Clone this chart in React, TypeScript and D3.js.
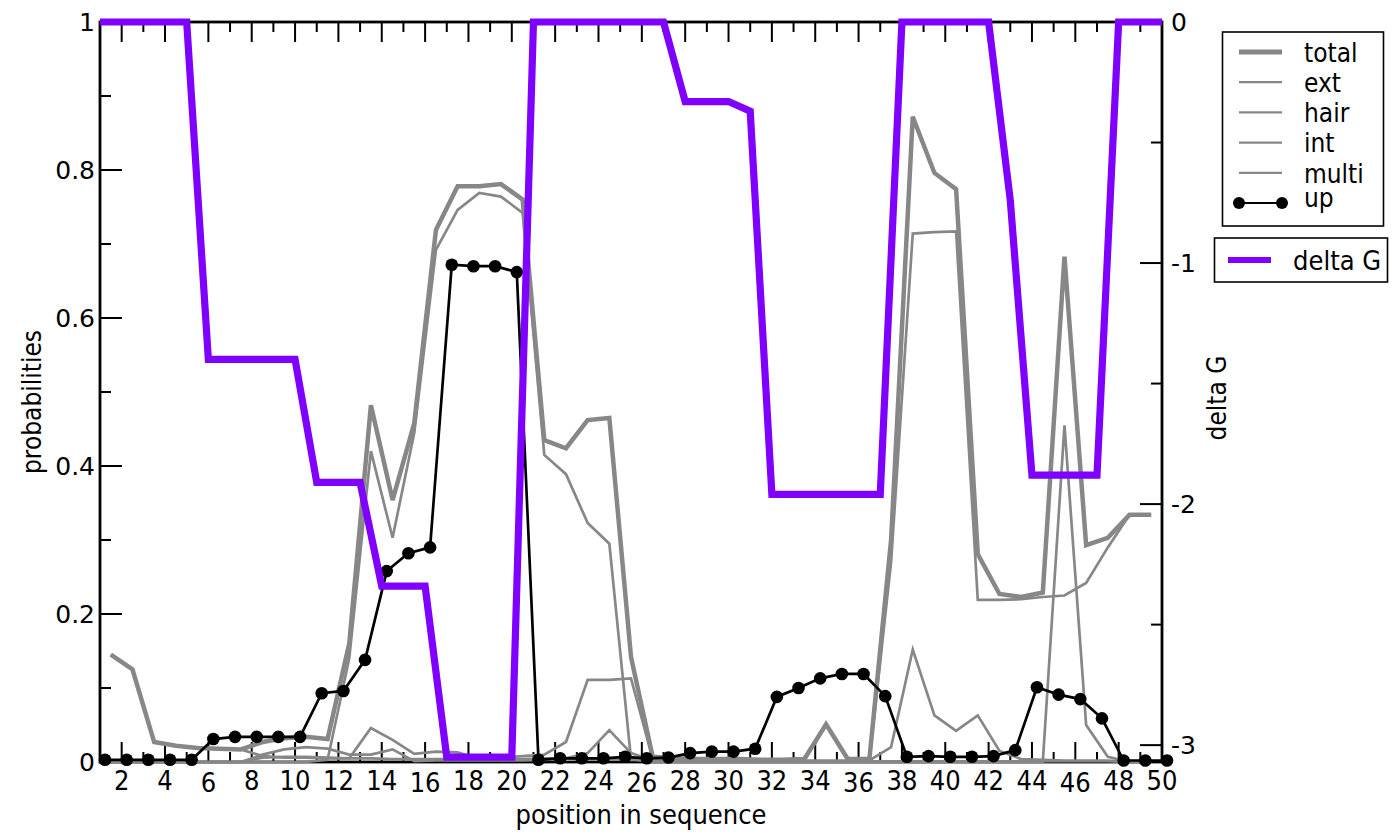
import React from 'react';
import * as d3 from 'd3';

// sequence positions 1..50
const positions = d3.range(1, 51);

// delta G per position (right axis)
const deltaG = [
  0, 0, 0, 0, 0, -1.40, -1.40, -1.40, -1.40, -1.40,
  -1.91, -1.91, -1.91, -2.34, -2.34, -2.34, -3.05, -3.05, -3.05, -3.05,
  0, 0, 0, 0, 0, 0, 0, -0.33, -0.33, -0.33,
  -0.37, -1.96, -1.96, -1.96, -1.96, -1.96, -1.96, 0, 0, 0,
  0, 0, -0.74, -1.88, -1.88, -1.88, -1.88, 0, 0, 0,
];

// probability of being unpaired ("up"), one value per position
const up = [
  0.003, 0.003, 0.003, 0.003, 0.003, 0.031, 0.034, 0.034, 0.034, 0.034,
  0.093, 0.096, 0.138, 0.258, 0.282, 0.290, 0.672, 0.670, 0.670, 0.662,
  0.003, 0.005, 0.005, 0.005, 0.007, 0.005, 0.006, 0.012, 0.014, 0.014,
  0.018, 0.088, 0.100, 0.113, 0.119, 0.119, 0.089, 0.007, 0.008, 0.007,
  0.007, 0.008, 0.016, 0.101, 0.091, 0.085, 0.059, 0.002, 0.002, 0.002,
];

// loop-type probabilities, 49 values, drawn between positions
const total = [
  0.145, 0.125, 0.027, 0.022, 0.019, 0.018, 0.017, 0.027, 0.032, 0.034,
  0.031, 0.160, 0.482, 0.354, 0.458, 0.719, 0.778, 0.778, 0.781, 0.760,
  0.435, 0.424, 0.462, 0.465, 0.142, 0.007, 0.005, 0.004, 0.004, 0.004,
  0.003, 0.003, 0.004, 0.051, 0.004, 0.004, 0.300, 0.872, 0.796, 0.774,
  0.281, 0.227, 0.223, 0.229, 0.683, 0.293, 0.303, 0.334, 0.334,
];
const ext = [
  0.145, 0.125, 0.027, 0.022, 0.019, 0.018, 0.017, 0.008, 0.006, 0.006,
  0.005, 0.005, 0.005, 0.004, 0.004, 0.004, 0.004, 0.004, 0.004, 0.004,
  0.005, 0.005, 0.004, 0.004, 0.003, 0.002, 0.002, 0.002, 0.002, 0.002,
  0.002, 0.002, 0.002, 0.002, 0.002, 0.002, 0.270, 0.714, 0.716, 0.717,
  0.219, 0.219, 0.220, 0.223, 0.225, 0.242, 0.290, 0.334, 0.334,
];
const hair = [
  0, 0, 0, 0, 0, 0, 0, 0, 0, 0,
  0.003, 0.140, 0.420, 0.303, 0.445, 0.692, 0.746, 0.769, 0.764, 0.742,
  0.415, 0.389, 0.323, 0.295, 0.004, 0, 0, 0, 0, 0,
  0, 0, 0, 0, 0, 0, 0, 0, 0, 0,
  0, 0, 0, 0, 0.455, 0.050, 0.007, 0, 0,
];
const int = [
  0, 0, 0, 0, 0, 0, 0, 0.006, 0.007, 0.007,
  0.006, 0.005, 0.046, 0.030, 0.011, 0.014, 0.013, 0.004, 0.006, 0.008,
  0.010, 0.027, 0.111, 0.111, 0.113, 0.004, 0.002, 0.002, 0.002, 0.002,
  0.002, 0.002, 0.002, 0.051, 0.002, 0.002, 0.020, 0.152, 0.063, 0.042,
  0.063, 0.015, 0.004, 0.003, 0.002, 0.002, 0.002, 0, 0,
];
const multi = [
  0, 0, 0, 0, 0, 0, 0, 0.010, 0.017, 0.020,
  0.018, 0.010, 0.010, 0.017, 0.001, 0.002, 0.002, 0.002, 0.002, 0.002,
  0.003, 0.005, 0.012, 0.043, 0.012, 0.002, 0.001, 0.001, 0.001, 0.001,
  0.001, 0.001, 0.001, 0.001, 0.001, 0.001, 0.001, 0.001, 0.001, 0.001,
  0.001, 0.001, 0.001, 0.001, 0.001, 0.001, 0.001, 0, 0,
];

const legendLabels = ['total', 'ext', 'hair', 'int', 'multi', 'up'];
const probTicks = [0, 0.2, 0.4, 0.6, 0.8, 1];
const probMinor = [0.1, 0.3, 0.5, 0.7, 0.9];
const dgTicks = [0, -1, -2, -3];
const dgMinor = [-0.5, -1.5, -2.5];

const GRAY = '#878787';
const PURPLE = '#8000ff';
const FONT = "'DejaVu Sans', sans-serif";
const COND = "'DejaVu Sans Condensed', 'DejaVu Sans', sans-serif";

const L = 100, R = 1162, T = 22, B = 762;
const GRAY_SHIFT = 0.5;
const UP_SHIFT = 0.23;

const x = d3.scaleLinear().domain([1, 50]).range([L, R]);
const yP = d3.scaleLinear().domain([0, 1]).range([B, T]);
const yG = d3.scaleLinear().domain([-3.07, 0]).range([B, T]);

const grayPath = (vals: number[]) =>
  d3.line<number>().x((_, i) => x(positions[i] + GRAY_SHIFT)).y(d => yP(d))(vals) || '';

const upPath = d3.line<number>().x((_, i) => x(positions[i] + UP_SHIFT)).y(d => yP(d))(up) || '';
const dgPath = d3.line<number>().x((_, i) => x(positions[i])).y(d => yG(d))(deltaG) || '';

// legend text is centred on its glyph box
const legendDy = (s: string, fs: number) => {
  const top = /[bdfhklt]/.test(s) ? 0.76 : 0.55;
  const bot = /[gjpqy]/.test(s) ? -0.23 : 0;
  return ((top + bot) / 2) * fs;
};

export default function App() {
  const majorX = positions.filter(p => p % 2 === 0);
  const minorX = positions.filter(p => p % 2 === 1);
  const legendRows = legendLabels.map((s, i) => ({ s, y: 52 + i * 30.2 }));

  return (
    <svg width={1393} height={832} style={{ position: 'absolute', left: 0, top: 0, background: '#fff' }}>
      {/* frame */}
      <rect x={L} y={T} width={R - L} height={B - T} fill="none" stroke="#000" strokeWidth={2.8} />

      {/* x ticks bottom and top */}
      {majorX.map(p => (
        <g key={'mx' + p} stroke="#000" strokeWidth={2}>
          <line x1={x(p)} x2={x(p)} y1={B} y2={B - 20} />
          <line x1={x(p)} x2={x(p)} y1={T} y2={T + 20} />
        </g>
      ))}
      {minorX.map(p => (
        <g key={'nx' + p} stroke="#000" strokeWidth={2}>
          <line x1={x(p)} x2={x(p)} y1={B} y2={B - 10} />
          <line x1={x(p)} x2={x(p)} y1={T} y2={T + 10} />
        </g>
      ))}
      {majorX.map(p => (
        <text key={'lx' + p} x={x(p)} y={p % 10 === 6 ? 792 : 790} textAnchor="middle"
          fontFamily={COND} fontSize={27} style={{ fontStretch: 'condensed' }}>{p}</text>
      ))}

      {/* left axis */}
      {probTicks.map(v => (
        <g key={'py' + v}>
          <line x1={L} x2={L + 22} y1={yP(v)} y2={yP(v)} stroke="#000" strokeWidth={2} />
          <text x={95} y={yP(v)} dy="0.36em" textAnchor="end" fontFamily={FONT} fontSize={25}>{v}</text>
        </g>
      ))}
      {probMinor.map(v => (
        <line key={'pm' + v} x1={L} x2={L + 11} y1={yP(v)} y2={yP(v)} stroke="#000" strokeWidth={2} />
      ))}

      {/* right axis */}
      {dgTicks.map(v => (
        <g key={'gy' + v}>
          <line x1={R} x2={R - 22} y1={yG(v)} y2={yG(v)} stroke="#000" strokeWidth={2} />
          <text x={1171} y={yG(v)} dy="0.36em" textAnchor="start" fontFamily={FONT} fontSize={25}>{v === 0 ? '0' : String(v)}</text>
        </g>
      ))}
      {dgMinor.map(v => (
        <line key={'gm' + v} x1={R} x2={R - 11} y1={yG(v)} y2={yG(v)} stroke="#000" strokeWidth={2} />
      ))}

      {/* axis titles */}
      <text x={641} y={824} textAnchor="middle" fontFamily={COND} fontSize={27} style={{ fontStretch: 'condensed' }}>position in sequence</text>
      <text transform="translate(41,402) rotate(-90)" textAnchor="middle" fontFamily={COND} fontSize={26} style={{ fontStretch: 'condensed' }}>probabilities</text>
      <text transform="translate(1226,398) rotate(-90)" textAnchor="middle" fontFamily={COND} fontSize={26} style={{ fontStretch: 'condensed' }}>delta G</text>

      {/* loop-type lines */}
      <g fill="none" stroke={GRAY} strokeLinejoin="miter">
        {[ext, hair, int, multi].map((s, i) => (
          <path key={'g' + i} d={grayPath(s)} strokeWidth={2.7} />
        ))}
        <path d={grayPath(total)} strokeWidth={4.5} />
      </g>

      {/* up */}
      <path d={upPath} fill="none" stroke="#000" strokeWidth={2.7} />
      {up.map((v, i) => (
        <circle key={'u' + i} cx={x(positions[i] + UP_SHIFT)} cy={yP(v)} r={6.3} fill="#000" />
      ))}

      {/* delta G */}
      <path d={dgPath} fill="none" stroke={PURPLE} strokeWidth={7.2} strokeLinejoin="miter" />

      {/* legend 1 */}
      <rect x={1222.5} y={32} width={161} height={194} fill="#fff" stroke="#000" strokeWidth={1.6} />
      {legendRows.map(({ s, y }) => (
        <g key={s}>
          <line x1={1239} x2={1282} y1={y} y2={y} stroke={s === 'up' ? '#000' : GRAY}
            strokeWidth={s === 'total' ? 5 : 2.2} />
          {s === 'up' && (
            <>
              <circle cx={1239} cy={y} r={6} fill="#000" />
              <circle cx={1282} cy={y} r={6} fill="#000" />
            </>
          )}
          <text x={1304} y={y + legendDy(s, 26)} fontFamily={COND} fontSize={26} style={{ fontStretch: 'condensed' }}>{s}</text>
        </g>
      ))}

      {/* legend 2 */}
      <rect x={1214.5} y={238} width={173} height={44} fill="#fff" stroke="#000" strokeWidth={1.6} />
      <line x1={1228} x2={1271} y1={260} y2={260} stroke={PURPLE} strokeWidth={6} />
      <text x={1293} y={260 + legendDy('delta G', 27)} fontFamily={COND} fontSize={27} style={{ fontStretch: 'condensed' }}>delta G</text>
    </svg>
  );
}
